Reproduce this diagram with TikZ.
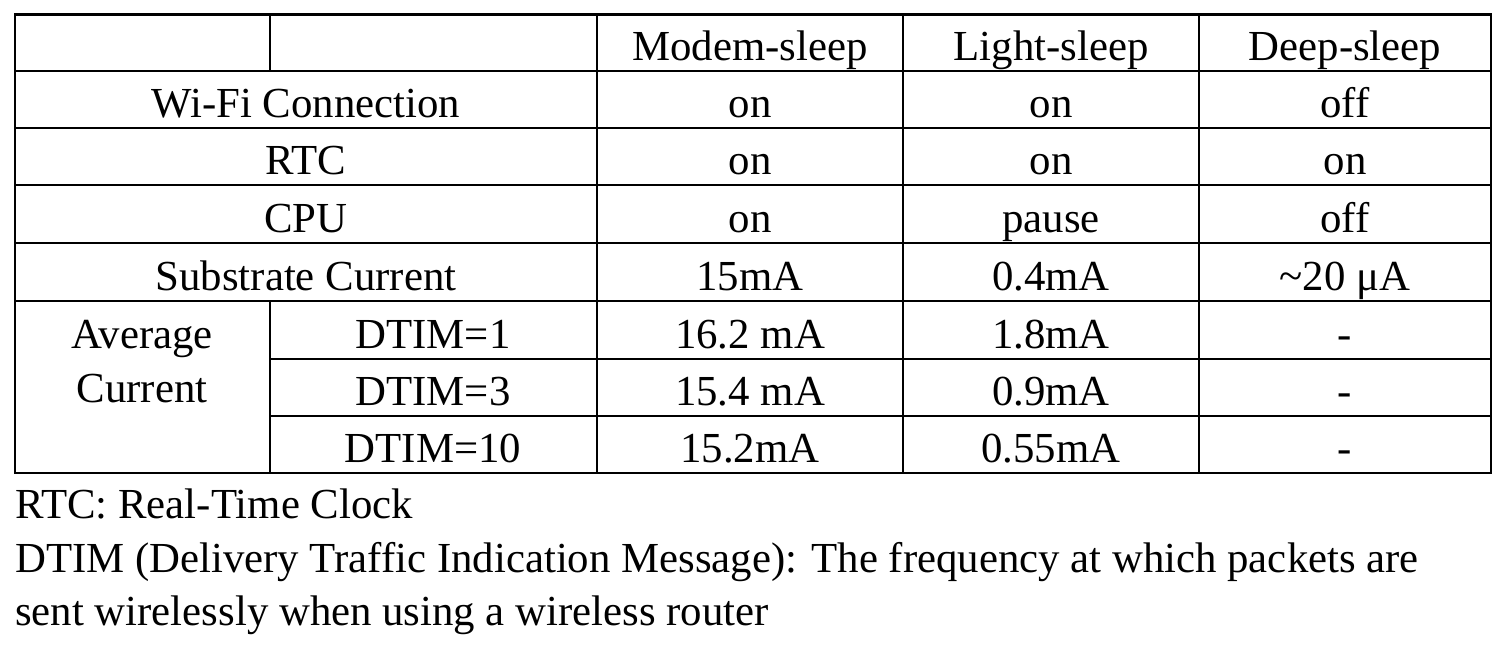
\documentclass[tikz,border=0pt]{standalone}
\usepackage{fontspec}
\setmainfont{Liberation Serif}
\begin{document}
\begin{tikzpicture}[x=1pt,y=-1pt,
  cell/.style={anchor=base,inner sep=0pt,font=\fontsize{42.8}{53}\selectfont},
  note/.style={anchor=base west,inner sep=0pt,font=\fontsize{42.8}{53}\selectfont},
  rule/.style={line width=2.8pt,line cap=rect}]
\useasboundingbox (0,0) rectangle (1512,662);
% grid
\draw[rule] (15,14.5) rectangle (1491,473);
\draw[rule] (15,71) -- (1491,71);
\draw[rule] (15,128) -- (1491,128);
\draw[rule] (15,185) -- (1491,185);
\draw[rule] (15,243) -- (1491,243);
\draw[rule] (15,301) -- (1491,301);
\draw[rule] (270,359) -- (1491,359);
\draw[rule] (270,416) -- (1491,416);
\draw[rule] (270,14.5) -- (270,71);
\draw[rule] (270,301) -- (270,473);
\draw[rule] (597,14.5) -- (597,473);
\draw[rule] (903,14.5) -- (903,473);
\draw[rule] (1199,14.5) -- (1199,473);
% header
\node[cell] (h1) at (750,60) {Modem-sleep};
\node[cell] (h2) at (1051,60) {Light-sleep};
\node[cell] (h3) at (1345,60) {Deep-sleep};
% rows
\node[cell] (r1) at (306,117) {Wi-Fi Connection};
\node[cell] (r1a) at (750,117) {on};
\node[cell] (r1b) at (1051,117) {on};
\node[cell] (r1c) at (1345,117) {off};
\node[cell] (r2) at (306,174) {RTC};
\node[cell] (r2a) at (750,174) {on};
\node[cell] (r2b) at (1051,174) {on};
\node[cell] (r2c) at (1345,174) {on};
\node[cell] (r3) at (306,232) {CPU};
\node[cell] (r3a) at (750,232) {on};
\node[cell] (r3b) at (1051,232) {pause};
\node[cell] (r3c) at (1345,232) {off};
\node[cell] (r4) at (306,290) {Substrate Current};
\node[cell] (r4a) at (750,290) {15mA};
\node[cell] (r4b) at (1051,290) {0.4mA};
\node[cell] (r4c) at (1345,290) {\textasciitilde20 μA};
\node[cell] (av1) at (142,348) {Average};
\node[cell] (av2) at (142,402) {Current};
\node[cell] (d1) at (433,348) {DTIM=1};
\node[cell] (d1a) at (750,348) {16.2 mA};
\node[cell] (d1b) at (1051,348) {1.8mA};
\node[cell] (d1c) at (1345,348) {-};
\node[cell] (d3) at (433,405) {DTIM=3};
\node[cell] (d3a) at (750,405) {15.4 mA};
\node[cell] (d3b) at (1051,405) {0.9mA};
\node[cell] (d3c) at (1345,405) {-};
\node[cell] (d10) at (433,462) {DTIM=10};
\node[cell] (d10a) at (750,462) {15.2mA};
\node[cell] (d10b) at (1051,462) {0.55mA};
\node[cell] (d10c) at (1345,462) {-};
% footnotes
\node[note] (n1) at (15,518) {RTC: Real-Time Clock};
\node[note] (n2) at (15,572) {DTIM (Delivery Traffic Indication Message): The frequency at which packets are};
\node[note] (n3) at (15,625) {sent wirelessly when using a wireless router};
\end{tikzpicture}
\end{document}
